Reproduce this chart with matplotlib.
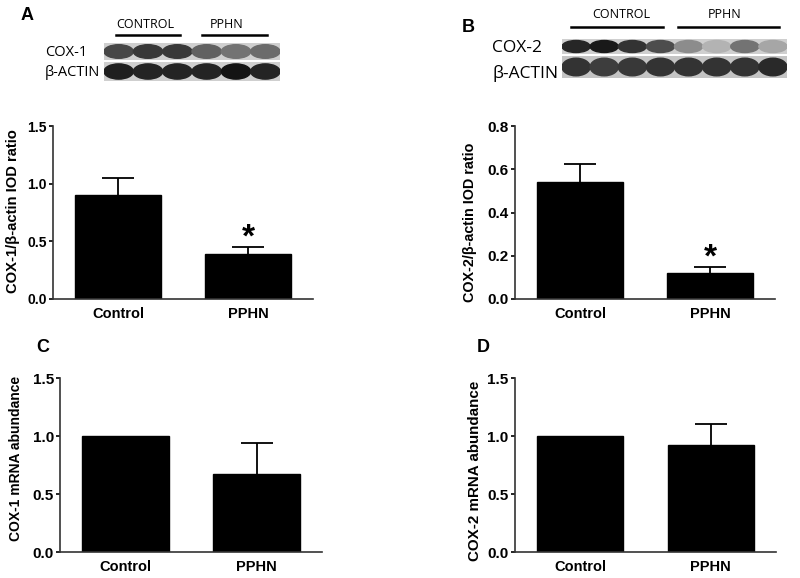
import matplotlib
matplotlib.use("Agg")
import matplotlib.pyplot as plt
from matplotlib.patches import Ellipse, Rectangle

# bar data
groups = ["Control", "PPHN"]
cox1_iod = [0.90, 0.39]
cox1_iod_err = [0.15, 0.06]
cox2_iod = [0.54, 0.12]
cox2_iod_err = [0.085, 0.03]
cox1_mrna = [1.00, 0.67]
cox1_mrna_err = [0.0, 0.27]
cox2_mrna = [1.00, 0.92]
cox2_mrna_err = [0.0, 0.18]

# band darkness per lane (0 = blank, 1 = black)
blotA_cox1 = [0.72, 0.78, 0.78, 0.62, 0.55, 0.58]
blotA_actin = [0.88, 0.86, 0.86, 0.86, 0.92, 0.86]
blotB_cox2 = [0.85, 0.90, 0.80, 0.70, 0.45, 0.30, 0.55, 0.35]
blotB_actin = [0.80, 0.76, 0.78, 0.80, 0.80, 0.80, 0.80, 0.84]

W, H = 800, 578
fig = plt.figure(figsize=(8, 5.78), dpi=100)
plt.rcParams['font.family'] = ['Liberation Sans', 'DejaVu Sans']


def box(x0, y0, x1, y1):
    return [x0 / W, 1 - y1 / H, (x1 - x0) / W, (y1 - y0) / H]


def bar_panel(rect, vals, errs, ylab, ymax, yticks, labsize, ticksize,
              labx, laby, star=False):
    ax = fig.add_axes(box(*rect))
    x = range(len(groups))
    ax.bar(x, vals, width=0.66, color="black", edgecolor="black")
    for xi, v, e in zip(x, vals, errs):
        if e > 0:
            eb = ax.errorbar(xi, v, yerr=[[0], [e]], color="black", lw=1.3,
                             capsize=11.5, capthick=1.3)
            eb[1][0].set_visible(False)
    if star:
        ax.annotate("*", (1, vals[1] + errs[1]), xytext=(0, -5),
                    textcoords="offset points", ha="center", va="bottom",
                    fontsize=24, fontweight="bold")
    ax.set_xlim(-0.5, 1.5)
    ax.set_ylim(0, ymax)
    ax.set_yticks(yticks)
    ax.set_yticklabels(["%.1f" % t for t in yticks], fontweight="bold",
                       fontsize=ticksize)
    ax.set_xticks(list(x))
    ax.set_xticklabels(groups, fontweight="bold", fontsize=10.5)
    ax.tick_params(axis="x", length=0, pad=6)
    ax.tick_params(axis="y", length=3, width=1.2, pad=1.5)
    ax.spines["top"].set_visible(False)
    ax.spines["right"].set_visible(False)
    for s in ("left", "bottom"):
        ax.spines[s].set_linewidth(1.2)
        ax.spines[s].set_color("#333333")
    ax.set_ylabel(ylab, fontweight="bold", fontsize=labsize)
    ax.yaxis.set_label_coords(labx, laby)
    return ax


def blot_strip(rect, dark, bg="#cfcfcf"):
    ax = fig.add_axes(box(*rect))
    n = len(dark)
    ax.set_xlim(0, n)
    ax.set_ylim(0, 1)
    ax.add_patch(Rectangle((0, 0), n, 1, color=bg))
    for i, d in enumerate(dark):
        g = 1 - d
        ax.add_patch(Ellipse((i + 0.5, 0.5), 1.0, 0.8,
                             color=(g, g, g)))
    ax.axis("off")


bar_panel((53, 126, 313, 299), cox1_iod, cox1_iod_err,
          "COX-1/β-actin IOD ratio", 1.5, [0.0, 0.5, 1.0, 1.5], 10.6, 10,
          -0.127, 0.51, star=True)
bar_panel((515, 126, 775, 299), cox2_iod, cox2_iod_err,
          "COX-2/β-actin IOD ratio", 0.8, [0.0, 0.2, 0.4, 0.6, 0.8], 10.4, 11,
          -0.146, 0.445, star=True)
bar_panel((60, 378, 322, 552), cox1_mrna, cox1_mrna_err,
          "COX-1 mRNA abundance", 1.5, [0.0, 0.5, 1.0, 1.5], 10, 11,
          -0.141, 0.54)
bar_panel((515, 378, 776, 552), cox2_mrna, cox2_mrna_err,
          "COX-2 mRNA abundance", 1.5, [0.0, 0.5, 1.0, 1.5], 10.9, 11,
          -0.126, 0.466)

# blots
blot_strip((104, 43, 280, 60), blotA_cox1)
blot_strip((104, 62, 280, 81), blotA_actin)
blot_strip((562, 39, 787, 54), blotB_cox2)
blot_strip((562, 56, 787, 78), blotB_actin, bg="#c4c4c4")

blot_font = ['Open Sans', 'DejaVu Sans']
def ftext(x, y, s, **kw):
    fig.text(x / W, 1 - y / H, s, **kw)

ftext(45, 52, "COX-1", fontsize=10.5, va="center", family=blot_font)
ftext(45, 72, "β-ACTIN", fontsize=10.5, va="center", family=blot_font)
ftext(145, 24, "CONTROL", fontsize=9, ha="center", va="center", family=blot_font)
ftext(227, 24, "PPHN", fontsize=9, ha="center", va="center", family=blot_font)
ftext(492, 48, "COX-2", fontsize=12.5, va="center", family=blot_font)
ftext(492, 73, "β-ACTIN", fontsize=12.5, va="center", family=blot_font)
ftext(621, 14, "CONTROL", fontsize=9, ha="center", va="center", family=blot_font)
ftext(725, 14, "PPHN", fontsize=9, ha="center", va="center", family=blot_font)

for x0, x1, y in [(116, 180, 35), (202, 267, 35), (571, 663, 27), (678, 779, 27)]:
    fig.add_artist(plt.Line2D([x0 / W, x1 / W], [1 - y / H, 1 - y / H],
                              color="black", lw=1.8))

for s, x, y in [("A", 27, 15), ("B", 468, 27), ("C", 43, 347), ("D", 483, 347)]:
    ftext(x, y, s, fontsize=13, fontweight="bold", ha="center", va="center")

plt.savefig("out.png", dpi=100)
